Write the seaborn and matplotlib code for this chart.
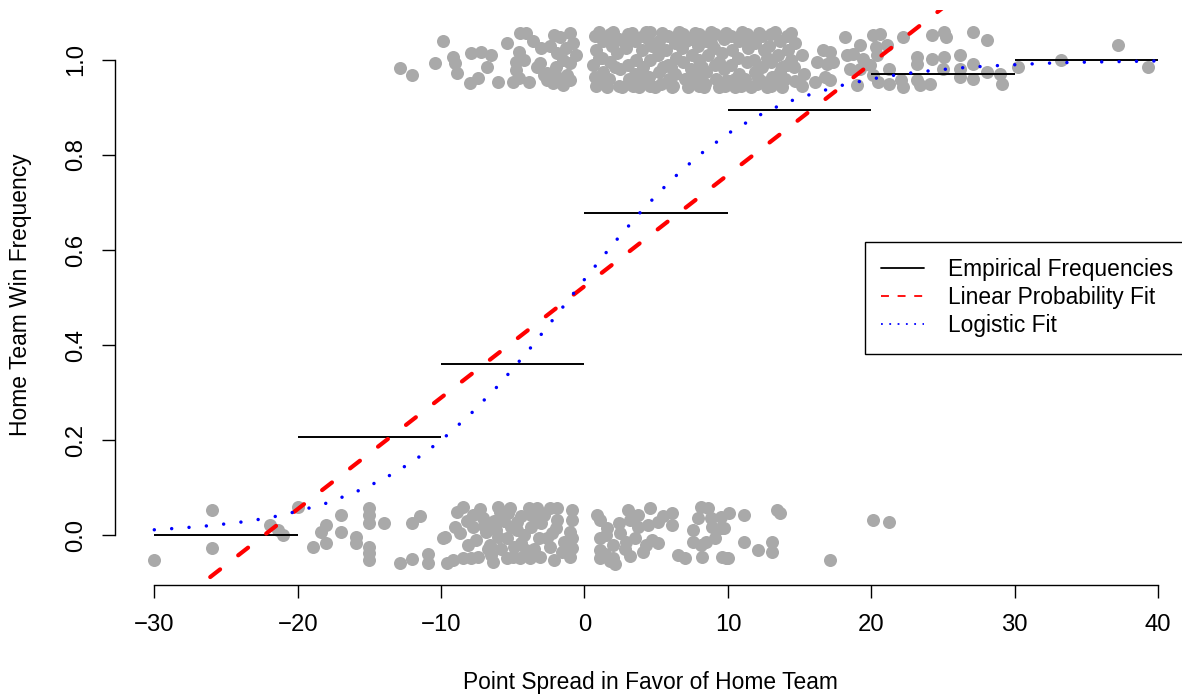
import numpy as np
import pandas as pd
import matplotlib
matplotlib.use("Agg")
import matplotlib.pyplot as plt
import seaborn as sns
from matplotlib.lines import Line2D

# ---------------- data ----------------
# jittered outcomes: home wins (top band)
top_x = [
    -12.9, -12.0, -9.9, -10.4, -9.2, -9.0, -8.9, -7.9, -7.2, -6.5, -8.0, -7.4, -6.0, -5.4,
    -4.8, -4.8, -4.6, -5.0, -4.5, -4.1, -4.6, -3.9, -3.3, -3.1, -2.6, -2.6, -2.1, -1.7,
    -1.0, -0.8, -1.9, -1.5, -1.0, -1.2, -1.9, -1.5, -2.2, -1.0, -2.8,
    0.7, 0.8, 0.6, 0.7, 0.8,
    1.3, 1.2, 1.3, 1.4,
    1.8, 1.9, 1.8, 1.7,
    2.4, 2.3, 2.5, 2.4,
    3.0, 2.9, 3.0, 3.1,
    3.5, 3.6, 3.5, 3.4,
    4.1, 4.0, 4.1, 4.2,
    4.6, 4.7, 4.6, 4.5, 4.6,
    5.2, 5.1, 5.2, 5.3,
    5.8, 5.7, 5.8, 5.9,
    6.3, 6.4, 6.3, 6.2,
    6.9, 6.8, 6.9, 7.0,
    7.4, 7.5, 7.4, 7.3,
    8.0, 7.9, 8.0, 8.1, 8.0,
    8.5, 8.6, 8.5, 8.4,
    9.1, 9.0, 9.1, 9.2,
    9.7, 9.6, 9.7, 9.8,
    10.2, 10.3, 10.2, 10.1,
    10.8, 10.7, 10.8, 10.9,
    11.3, 11.4, 11.3, 11.2,
    11.9, 11.8, 11.9, 12.0,
    12.4, 12.5, 12.4, 12.3,
    13.0, 12.9, 13.0, 13.1, 13.0,
    13.6, 13.5, 13.6, 13.7,
    14.1, 14.2, 14.1, 14.0,
    14.7, 14.6, 14.7,
    15.2, 15.3, 15.2,
    1.0, 2.1, 2.7, 3.8, 5.0, 6.0, 7.1, 7.7, 8.8, 9.4, 10.5, 11.6, 12.7, 13.3, 14.4,
    1.5, 3.2, 4.4, 5.5, 6.6, 8.2, 9.9, 11.0, 12.1, 13.8,
    1.0, 2.0, 3.3, 4.3, 5.4, 6.6, 7.7, 8.8, 9.9, 11.0, 12.2, 13.3, 14.4,
    1.6, 2.6, 3.8, 4.9, 6.1, 7.2, 8.3, 9.4, 10.5, 11.6, 12.7, 13.8,
    -3.6, -2.4, -0.6, -6.8, -4.2, -3.0, -2.0, -1.3,
    16.2, 16.1, 18.2, 16.6, 17.1, 16.9, 17.3, 16.8, 17.1, 18.3, 18.7, 19.2, 19.4, 18.5,
    19.2, 19.9, 20.1, 20.6, 20.3, 20.4, 21.1, 20.1, 20.5, 19.0, 21.2, 21.2, 22.2, 22.1,
    22.2, 23.2, 23.2, 23.2, 23.4, 24.2, 24.2, 24.1, 25.1, 25.2, 25.1, 25.0, 26.2, 26.2,
    26.2, 27.1, 27.1, 27.1, 28.1, 28.1, 29.0, 29.1,
    30.2, 33.2, 37.2, 39.3,
]
top_y = [
    0.983, 0.968, 1.040, 0.994, 1.006, 0.994, 0.973, 1.015, 1.017, 1.011, 0.952, 0.962, 0.954, 1.036,
    0.996, 0.979, 0.962, 0.954, 1.057, 1.057, 1.017, 0.954, 0.985, 0.994, 0.973, 0.958, 1.053, 1.048,
    1.057, 1.036, 1.015, 1.000, 0.994, 0.968, 0.964, 0.947, 0.952, 0.958, 0.968,
    1.050, 1.020, 0.990, 0.965, 0.945,
    1.040, 1.005, 0.975, 0.950,
    1.055, 1.030, 0.995, 0.960,
    1.045, 1.015, 0.980, 0.945,
    1.055, 1.025, 0.990, 0.960,
    1.040, 1.000, 0.970, 0.945,
    1.050, 1.020, 0.985, 0.955,
    1.058, 1.030, 1.000, 0.965, 0.945,
    1.040, 1.010, 0.975, 0.950,
    1.050, 1.020, 0.990, 0.960,
    1.035, 1.005, 0.970, 0.945,
    1.055, 1.025, 0.995, 0.960,
    1.045, 1.010, 0.980, 0.950,
    1.055, 1.030, 1.000, 0.970, 0.945,
    1.040, 1.010, 0.975, 0.950,
    1.055, 1.025, 0.990, 0.960,
    1.045, 1.015, 0.980, 0.945,
    1.050, 1.020, 0.990, 0.955,
    1.040, 1.005, 0.970, 0.945,
    1.055, 1.025, 0.995, 0.960,
    1.035, 1.000, 0.975, 0.950,
    1.050, 1.020, 0.985, 0.955,
    1.055, 1.030, 0.995, 0.965, 0.945,
    1.040, 1.010, 0.975, 0.950,
    1.050, 1.020, 0.990, 0.960,
    1.035, 0.985, 0.955,
    1.010, 0.970, 0.945,
    1.005, 0.985, 1.040, 0.965, 1.030, 0.985, 1.040, 0.960, 1.035, 0.995, 0.960, 1.040, 1.005, 0.965, 1.000,
    0.958, 0.950, 1.045, 0.985, 1.045, 0.985, 0.955, 1.045, 0.962, 0.985,
    1.058, 1.058, 1.057, 1.058, 1.057, 1.058, 1.057, 1.058, 1.057, 1.058, 1.057, 1.058, 1.057,
    0.943, 0.943, 0.944, 0.943, 0.943, 0.944, 0.943, 0.943, 0.944, 0.943, 0.943, 0.944,
    1.040, 1.030, 1.010, 0.985, 1.000, 1.025, 0.985, 1.025,
    0.996, 0.954, 1.048, 1.021, 1.017, 0.992, 0.996, 0.964, 0.958, 1.011, 1.013, 1.032, 1.002, 0.981,
    0.981, 0.989, 1.053, 1.055, 1.027, 1.011, 1.032, 0.968, 0.954, 0.947, 0.981, 0.949, 1.048, 0.958,
    0.943, 1.006, 0.992, 0.958, 0.947, 1.053, 1.002, 0.949, 1.059, 1.048, 1.006, 0.981, 1.011, 0.981,
    0.964, 1.059, 0.992, 0.960, 1.042, 0.975, 0.971, 0.949,
    0.985, 1.000, 1.032, 0.985,
]

# jittered outcomes: home losses (bottom band)
bot_x = [
    -30.0, -26.0, -26.0, -21.9, -21.4, -21.0, -20.0, -18.9, -18.4, -18.0, -18.0, -17.0, -17.0,
    -15.9, -15.9, -15.0, -15.0, -15.0, -15.0, -15.0, -15.0, -14.0, -12.9, -12.0, -11.5, -12.0,
    -10.9, -10.9, -9.9, -9.6,
    -9.7, -8.9, -8.5, -9.0, -8.7, -9.2, -8.5, -7.9, -7.4, -7.8, -7.8, -7.1, -6.9, -6.5, -6.4,
    -6.0, -5.9, -6.0, -5.4, -5.3, -5.1, -4.7, -4.7, -5.4, -5.0, -4.5, -4.4, -4.1, -3.9, -3.7,
    -3.3, -3.7, -3.2, -3.8, -3.1, -2.4, -2.8, -2.6, -2.3, -2.4, -1.9, -1.9, -2.1, -1.4, -0.9,
    -0.9, -1.0, -0.9, -0.9, -1.0,
    -7.0, -6.2, -5.6, -4.2, -3.0, -6.6, -5.8, -7.6, -4.9, -3.5,
    -8.2, -7.3, -6.7, -5.2, -4.4, -3.4, -2.0, -1.6, -8.1, -6.3,
    0.9, 1.1, 1.1, 1.1, 1.1, 1.6, 2.0, 2.0, 2.1, 2.5, 3.0, 3.2, 3.7, 3.5, 4.1, 3.7, 4.6, 4.4,
    4.7, 5.1, 5.1, 6.1, 6.1, 6.5, 7.0, 7.6, 8.1, 8.6, 8.8, 7.6, 8.1, 8.5, 9.1, 8.9, 8.2, 9.5,
    9.9, 9.5, 10.1, 11.1, 13.4, 13.6, 9.7, 9.6, 10.0, 11.1, 12.1, 13.1, 13.1, 17.1, 20.1, 21.2,
    1.5, 2.4, 2.8, 1.4, 3.2, 4.3, 1.8, 2.9, 5.5, 7.9,
]
bot_y = [
    -0.053, 0.053, -0.027, 0.021, 0.011, 0.000, 0.059, -0.025, 0.006, 0.021, -0.017, 0.042, 0.006,
    -0.004, -0.017, 0.057, 0.042, 0.025, -0.025, -0.038, -0.053, 0.025, -0.059, 0.025, 0.040, -0.051,
    -0.040, -0.059, -0.006, -0.059,
    -0.004, 0.048, 0.059, 0.017, 0.004, -0.053, -0.048, -0.048, -0.046, 0.042, 0.017, 0.036, 0.006, -0.042, -0.057,
    0.059, 0.048, -0.004, -0.006, 0.046, 0.017, 0.027, 0.011, -0.048, -0.046, -0.048, -0.017, -0.032, 0.057, 0.042,
    0.057, 0.017, -0.006, -0.048, -0.046, 0.057, 0.042, -0.006, 0.004, -0.025, 0.057, 0.032, -0.053, -0.015, 0.053,
    0.032, 0.006, -0.006, -0.027, -0.046,
    0.020, 0.010, 0.030, 0.000, 0.025, -0.020, -0.030, -0.010, -0.025, -0.030,
    0.030, 0.055, -0.030, 0.057, 0.040, 0.040, 0.015, -0.035, -0.020, 0.030,
    0.042, 0.032, -0.006, -0.032, -0.048, 0.015, -0.021, -0.048, -0.060, 0.004, 0.053, 0.032, 0.017, -0.006, -0.036, 0.042, 0.057, 0.021,
    -0.011, 0.027, -0.017, 0.046, 0.021, -0.042, -0.048, 0.011, 0.059, 0.057, 0.036, -0.015, -0.021, -0.015, -0.006, 0.017, -0.046, 0.015,
    -0.048, 0.038, 0.046, 0.042, 0.053, 0.046, 0.015, -0.046, -0.048, -0.015, -0.032, -0.015, -0.036, -0.053, 0.032, 0.027,
    0.000, 0.025, -0.030, -0.040, -0.045, -0.020, -0.055, -0.015, 0.040, 0.035,
]

# empirical frequencies per 10-point bin
emp_lo = [-30, -20, -10, 0, 10, 20, 30]
emp_hi = [-20, -10, 0, 10, 20, 30, 40]
emp_y = [0.000, 0.207, 0.360, 0.678, 0.895, 0.970, 1.000]

# linear probability fit (end points)
lin_x = [-30, 40]
lin_y = [-0.180, 1.462]

# logistic fit
logit_x = [-30, -28, -26, -24, -22, -20, -18, -16, -14, -12, -10, -8, -6, -4, -2,
           0, 2, 4, 6, 8, 10, 12, 14, 16, 18, 20, 22, 24, 26, 28, 30, 32, 34, 36, 38, 40]
logit_y = [0.011, 0.015, 0.020, 0.027, 0.036, 0.050, 0.067, 0.090, 0.118, 0.154, 0.199,
           0.253, 0.315, 0.385, 0.461, 0.538, 0.613, 0.683, 0.746, 0.800, 0.845, 0.881,
           0.910, 0.930, 0.947, 0.960, 0.970, 0.977, 0.983, 0.987, 0.990, 0.993, 0.995,
           0.996, 0.997, 0.998]

legend_labels = ["Empirical Frequencies", "Linear Probability Fit", "Logistic Fit"]
x_ticks = [-30, -20, -10, 0, 10, 20, 30, 40]
y_ticks = [0.0, 0.2, 0.4, 0.6, 0.8, 1.0]
x_label = "Point Spread in Favor of Home Team"
y_label = "Home Team Win Frequency"

# ---------------- figure ----------------
sns.set_style("ticks")
plt.rcParams['font.family'] = ['Liberation Sans', 'DejaVu Sans']
plt.rcParams['text.color'] = 'black'
plt.rcParams['axes.labelcolor'] = 'black'

W, H = 1182, 695
FS = 16.4
TFS = 17.2
fig = plt.figure(figsize=(W / 100, H / 100), dpi=100)
left_px, right_px, top_px, bot_px = 115, 1197.4, 10, 585
ax = fig.add_axes([left_px / W, 1 - bot_px / H, (right_px - left_px) / W, (bot_px - top_px) / H])
ax.set_facecolor("white")

pts = pd.DataFrame({"x": top_x + bot_x, "y": top_y + bot_y})
sns.scatterplot(data=pts, x="x", y="y", color="#A9A9A9", s=88, linewidth=0, ax=ax, zorder=2)

ax.hlines(emp_y, emp_lo, emp_hi, color="black", lw=1.4, zorder=3)
sns.lineplot(x=lin_x, y=lin_y, color="red", lw=3, sort=False, estimator=None,
             linestyle=(0, (3, 5.5)), dash_capstyle="round", ax=ax, zorder=4)
sns.lineplot(x=logit_x, y=logit_y, color="blue", lw=2.5, sort=False, estimator=None,
             linestyle=(0, (0.01, 5.0)), dash_capstyle="round", ax=ax, zorder=5)

ax.set_xlim(-32.74, 42.74)
ax.set_ylim(-0.10526, 1.10526)
ax.set_xticks(x_ticks)
ax.set_xticklabels([f"{v:d}".replace("-", "\u2212") for v in x_ticks])
ax.set_yticks(y_ticks)
ax.set_yticklabels([f"{v:.1f}" for v in y_ticks], rotation=90, va="center")
for s in ["top", "right"]:
    ax.spines[s].set_visible(False)
ax.spines["left"].set_bounds(0, 1)
ax.spines["bottom"].set_bounds(-30, 40)
for s in ["left", "bottom"]:
    ax.spines[s].set_color("black")
    ax.spines[s].set_linewidth(1.0)
ax.tick_params(axis="both", length=9.4, width=1.0, color="black", labelsize=TFS, labelcolor="black")
ax.tick_params(axis="x", pad=11.5)
ax.tick_params(axis="y", pad=10.5)
ax.set_xlabel("")
ax.set_ylabel("")

fig.text(650 / W, 1 - 689 / H, x_label, fontsize=FS, ha="center", va="baseline", color="black")
fig.text(27 / W, 1 - 295 / H, y_label, fontsize=FS, ha="center", va="baseline",
         rotation=90, rotation_mode="anchor", color="black")

handles = [
    Line2D([], [], color="black", lw=1.3),
    Line2D([], [], color="red", lw=1.3, linestyle=(0, (4.4, 4.8))),
    Line2D([], [], color="blue", lw=1.3, linestyle=(0, (1, 3.6))),
]
leg = ax.legend(handles, legend_labels, loc="upper left",
                bbox_to_anchor=(865 / W, 1 - 242 / H), bbox_transform=fig.transFigure,
                frameon=True, fancybox=False, edgecolor="black", framealpha=1,
                fontsize=FS, handlelength=1.89, handletextpad=1.05, borderaxespad=0,
                borderpad=0.72, labelspacing=0.22)
leg.get_frame().set_linewidth(1.0)
for t in leg.get_texts():
    t.set_color("black")

fig.savefig("out.png", dpi=100)
